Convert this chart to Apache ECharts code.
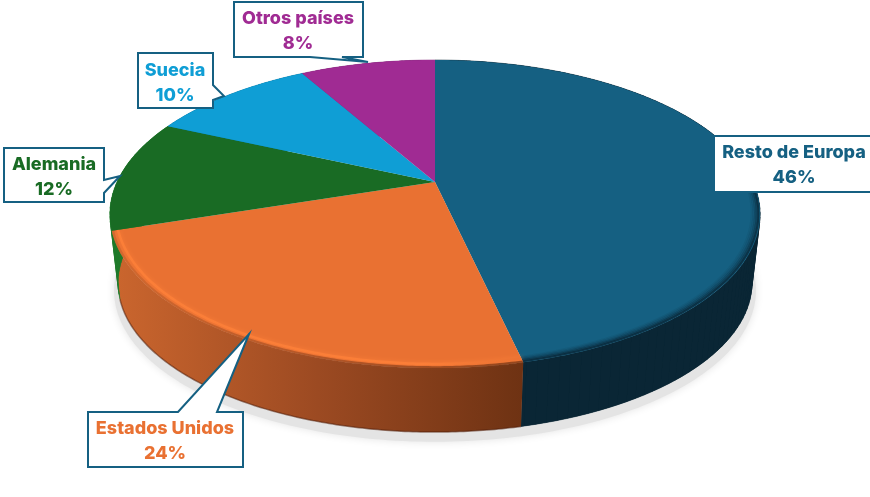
<!DOCTYPE html>
<html>
<head>
<meta charset="utf-8">
<style>
  html, body { margin: 0; padding: 0; background: #fff; }
  #chart { width: 870px; height: 497px; }
</style>
<script src="https://cdn.jsdelivr.net/npm/echarts@6/dist/echarts.min.js"></script>
</head>
<body>
<div id="chart"></div>
<script>
// data (slices run clockwise from 12 o'clock)
var categories = ['Resto de Europa', 'Estados Unidos', 'Alemania', 'Suecia', 'Otros países']
var shares = [46.45, 23.55, 11.75, 10.05, 8.2]

// look
var topColors = ['#156082', '#E97132', '#196B24', '#0F9ED5', '#A02B93']
var wallStops = [
  [[0, '#0A2635'], [1, '#0A2635']],
  [[0, '#CB662E'], [0.5, '#9C4A22'], [1, '#6E3213']],
  [[0, '#1F7A2A'], [1, '#196B24']],
  [[0, '#0C7FAB'], [1, '#0C7FAB']],
  [[0, '#802276'], [1, '#802276']]
]
var highlightStops = [[0, '#FF8139'], [0.75, '#FF8139'], [1, '#E97132']]
var borderColor = '#156082'

// callout boxes: outline, then text centre
var callouts = [
  { points: [[714, 136], [875, 136], [875, 192], [714, 192]], text: [794, 165] },
  { points: [[88, 412], [178, 412], [249, 334], [217, 412], [243, 412], [243, 467], [88, 467]], text: [165, 441] },
  { points: [[4, 148], [104, 148], [104, 180], [120, 176], [104, 193], [104, 202], [4, 202]], text: [54, 177] },
  { points: [[138, 53], [213, 53], [213, 85], [224, 96], [213, 100], [213, 108], [138, 108]], text: [175, 83] },
  { points: [[234, 2], [363, 2], [363, 57], [342, 57], [368, 62], [310, 57], [234, 57]], text: [298, 31] }
]

// pie projection: t = 0 is the top face, t = 1 the bottom rim
var cx = 435
var tilt = 0.208
var topFace = { r: 318, s: 147.4, cy: 182 }
var bottomFace = { r: 310, s: 142.6, cy: 252 }

function project (angle, t, scale, shiftY) {
  var u = Math.sin(angle) * scale
  var v = -Math.cos(angle) * scale
  var d = 1 - tilt * v
  var r = topFace.r + (bottomFace.r - topFace.r) * t
  var s = topFace.s + (bottomFace.s - topFace.s) * t
  var cy = topFace.cy + (bottomFace.cy - topFace.cy) * t
  return [cx + r * u / d, cy + s * v / d + (shiftY || 0)]
}

function sliceAngles (index) {
  var total = shares.reduce(function (a, b) { return a + b }, 0)
  var before = shares.slice(0, index).reduce(function (a, b) { return a + b }, 0)
  return [before / total * Math.PI * 2, (before + shares[index]) / total * Math.PI * 2]
}

function arc (from, to, t, scale) {
  var points = []
  var steps = Math.max(2, Math.ceil((to - from) / 0.01))
  for (var i = 0; i <= steps; i++) {
    points.push(project(from + (to - from) * i / steps, t, scale))
  }
  return points
}

function gradient (stops) {
  return new echarts.graphic.LinearGradient(0, 0, 1, 0, stops.map(function (s) {
    return { offset: s[0], color: s[1] }
  }))
}

function rimLine (points, stroke, lineWidth, opacity, blur) {
  return {
    type: 'polyline',
    shape: { points: points },
    style: {
      fill: null,
      stroke: stroke,
      lineWidth: lineWidth,
      opacity: opacity,
      shadowBlur: blur || 0,
      shadowColor: blur ? '#FF8139' : 'transparent'
    }
  }
}

function renderShadow () {
  var points = []
  for (var a = 0; a < Math.PI * 2; a += 0.02) {
    points.push(project(a, 1, 1.012, 7))
  }
  return {
    type: 'polygon',
    shape: { points: points },
    style: { fill: '#E4E4E4', shadowBlur: 8, shadowColor: '#E4E4E4' }
  }
}

function renderWall (params) {
  var i = params.dataIndex
  var a = sliceAngles(i)
  var points = arc(a[0], a[1], 0, 1).concat(arc(a[0], a[1], 1, 1).reverse())
  var children = [{
    type: 'polygon',
    shape: { points: points },
    style: { fill: gradient(wallStops[i]) }
  }]
  // the two arcs alone leave a notch at the widest points, so join them with strips
  if (i !== 1) {
    var color = wallStops[i][0][1]
    for (var x = a[0]; x < a[1]; x += 0.03) {
      var next = Math.min(x + 0.03, a[1])
      children.push({
        type: 'polygon',
        shape: { points: [project(x, 0, 1), project(next, 0, 1), project(next, 1, 1), project(x, 1, 1)] },
        style: { fill: color, stroke: color, lineWidth: 0.5 }
      })
    }
  } else {
    children.push(rimLine(arc(a[0], a[1], 1, 1), 'rgba(80,30,10,0.55)', 1.5, 1))
  }
  return { type: 'group', children: children }
}

function renderTop (params) {
  var i = params.dataIndex
  var a = sliceAngles(i)
  var points = [project(0, 0, 0)].concat(arc(a[0], a[1], 0, 1))
  var children = [{
    type: 'polygon',
    shape: { points: points },
    style: { fill: topColors[i] }
  }]
  // rounded edge only shows on the side facing us
  var from = Math.max(a[0], Math.PI * 0.43)
  var to = Math.min(a[1], Math.PI * 1.57)
  if (i === 0) {
    var fade = [[0.975, 0.08], [0.98, 0.16], [0.985, 0.3], [0.99, 0.5], [0.995, 0.75]]
    fade.forEach(function (f) {
      children.push(rimLine(arc(from, to, 0, f[0]), '#0A2635', 2, f[1]))
    })
  } else if (i === 1) {
    children.push(rimLine(arc(from, to, 0, 0.982), gradient(highlightStops), 2.5, 0.75, 4))
    children.push(rimLine(arc(from, to, 0, 0.997), gradient(wallStops[1]), 2.5, 0.7))
  }
  return { type: 'group', children: children }
}

function renderCallout (params) {
  var i = params.dataIndex
  var box = callouts[i]
  return {
    type: 'group',
    children: [{
      type: 'polygon',
      shape: { points: box.points },
      style: { fill: '#fff', stroke: borderColor, lineWidth: 2, lineJoin: 'miter' }
    }, {
      type: 'text',
      x: box.text[0],
      y: box.text[1],
      style: {
        text: categories[i] + '\n' + Math.round(shares[i]) + '%',
        fill: topColors[i],
        font: '800 18px Inter',
        lineHeight: 25,
        align: 'center',
        verticalAlign: 'middle'
      }
    }]
  }
}

var chart = echarts.init(document.getElementById('chart'), null, { renderer: 'canvas' })
var rows = shares.map(function (v, i) { return [i, v] })
chart.setOption({
  animation: false,
  backgroundColor: '#fff',
  series: [
    { type: 'custom', coordinateSystem: 'none', z: 1, silent: true, data: [[0]], renderItem: renderShadow },
    { type: 'custom', coordinateSystem: 'none', z: 2, silent: true, data: rows, renderItem: renderWall },
    { type: 'custom', coordinateSystem: 'none', z: 3, silent: true, data: rows, renderItem: renderTop },
    { type: 'custom', coordinateSystem: 'none', z: 4, silent: true, data: rows, renderItem: renderCallout }
  ]
})
</script>
</body>
</html>
